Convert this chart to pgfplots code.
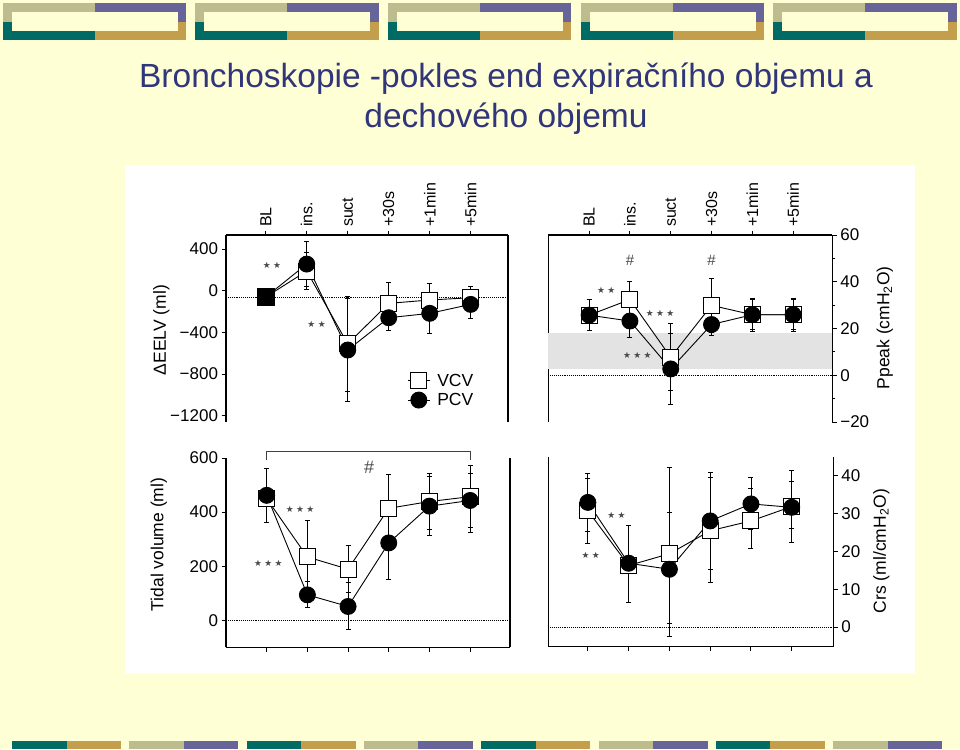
\documentclass[border=0pt]{standalone}
\usepackage{fontspec}
\setmainfont{Liberation Sans}
\newfontfamily\symfont{DejaVu Sans}
\usepackage{pgfplots}
\usepackage{pgfplotstable}
\pgfplotsset{compat=1.18}

\definecolor{slidebg}{HTML}{FFFFD5}
\definecolor{khaki}{HTML}{BCBC8F}
\definecolor{lilac}{HTML}{67649A}
\definecolor{teal}{HTML}{006A64}
\definecolor{gold}{HTML}{C39E4C}
\definecolor{titleblue}{HTML}{31367A}
\definecolor{notegray}{HTML}{4A4A4A}

\newcommand\two{★\hspace{2.4pt}★}
\newcommand\three{★\hspace{2.4pt}★\hspace{2.4pt}★}

% columns: x, mean, error up, error down
\pgfplotstableread{
x y ep em
0 -60 0 0
1 189 180 180
2 -511 455 455
3 -121 200 200
4 -89 155 155
5 -67 105 105
}\eelvV
\pgfplotstableread{
x y ep em
0 -60 0 0
1 256 220 220
2 -569 490 490
3 -259 125 125
4 -217 190 190
5 -131 140 140
}\eelvP
\pgfplotstableread{
x y ep em
0 25.7 6.5 6.5
1 32.4 7.7 7.7
2 7.7 14.4 14.4
3 29.9 11.4 11.4
4 25.9 7 7
5 25.9 7 7
}\ppV
\pgfplotstableread{
x y ep em
0 25.7 6.5 6.5
1 23.2 7 7
2 2.7 15.3 15.3
3 21.7 4.7 4.7
4 25.9 6.5 6.5
5 25.9 6.5 6.5
}\ppP
\pgfplotstableread{
x y ep em
0 450 110 90
1 234 136 136
2 189 87 87
3 414 125 125
4 439 104 104
5 457 115 115
}\tvV
\pgfplotstableread{
x y ep em
0 462 100 100
1 94 50 47
2 51 88 85
3 286 135 135
4 422 110 110
5 443 100 120
}\tvP
\pgfplotstableread{
x y ep em
0 30.8 8.6 8.6
1 16.3 10.5 9.8
2 19.4 10.8 18.4
3 25.5 14 10.2
4 28.1 8.5 7.2
5 31.9 9.6 9.6
}\crsV
\pgfplotstableread{
x y ep em
0 33 7.7 7.7
1 16.9 10 10.4
2 15.3 27 17.9
3 28.1 12.9 16.3
4 32.6 7 6.8
5 31.7 6.8 5.5
}\crsP

\pgfplotsset{
  panel/.style={
    scale only axis, clip=false,
    xtick={0,...,5},
    tick align=outside, major tick length=4.5pt, minor tick length=3pt,
    tick style={black, line width=1pt},
    axis line style={black, line width=1.2pt},
    tick label style={font=\fontsize{17}{20}\selectfont},
    /pgf/number format/assume math mode=true,
  },
  catlabels/.style={
    xticklabels={BL,ins.,suct,+30s,+1min,+5min},
    x tick label style={rotate=90, anchor=west, font=\fontsize{16}{19}\selectfont},
  },
  whisk/.style={black, line width=0.9pt, only marks, mark=none, forget plot,
    error bars/.cd, y dir=both, y explicit,
    error bar style={black, line width=0.9pt},
    error mark=-, error mark options={rotate=90, black, mark size=2.5pt, line width=1pt}},
  vcv/.style={black, line width=0.9pt, mark=square*, mark size=8pt,
    mark options={fill=white, line width=1pt}},
  pcv/.style={black, line width=0.9pt, mark=*, mark size=8pt,
    mark options={fill=black}},
}
\tikzset{
  note/.style={font=\symfont\fontsize{8.8}{10}\selectfont, text=notegray},
  hash/.style={font=\fontsize{15}{16}\selectfont, text=notegray},
  lab/.style={rotate=90, font=\fontsize{17.5}{20}\selectfont},
}

\begin{document}
\begin{tikzpicture}
\fill[slidebg] (0pt,0pt) rectangle (960pt,-749pt);
\useasboundingbox (0pt,0pt) rectangle (960pt,-749pt);

% slide decoration, top
\foreach \i in {0,...,4}{
  \pgfmathsetmacro\xa{2.7+192.6*\i}
  \pgfmathsetmacro\xb{\xa+92}
  \pgfmathsetmacro\xc{\xa+183.5}
  \pgfmathsetmacro\xd{\xa+9}
  \pgfmathsetmacro\xe{\xa+175}
  \fill[khaki] (\xa pt,-3.3pt) rectangle (\xb pt,-21.7pt);
  \fill[lilac] (\xb pt,-3.3pt) rectangle (\xc pt,-21.7pt);
  \fill[teal] (\xa pt,-21.7pt) rectangle (\xb pt,-40pt);
  \fill[gold] (\xb pt,-21.7pt) rectangle (\xc pt,-40pt);
  \fill[slidebg] (\xd pt,-12.3pt) rectangle (\xe pt,-31pt);
}
% slide decoration, bottom
\foreach \i in {0,...,7}{
  \pgfmathsetmacro\xa{12+117.3*\i}
  \pgfmathsetmacro\xb{\xa+54.5}
  \pgfmathsetmacro\xc{\xa+109}
  \ifodd\i
    \fill[khaki] (\xa pt,-740.7pt) rectangle (\xb pt,-749pt);
    \fill[lilac] (\xb pt,-740.7pt) rectangle (\xc pt,-749pt);
  \else
    \fill[teal] (\xa pt,-740.7pt) rectangle (\xb pt,-749pt);
    \fill[gold] (\xb pt,-740.7pt) rectangle (\xc pt,-749pt);
  \fi
}

% title
\node[anchor=base, text=titleblue, font=\fontsize{33.5}{40}\selectfont] at (506pt,-88pt)
  {Bronchoskopie -pokles end expiračního objemu a};
\node[anchor=base, text=titleblue, font=\fontsize{33.5}{40}\selectfont] at (506pt,-128pt)
  {dechového objemu};

% white figure panel
\fill[white] (125pt,-165pt) rectangle (915pt,-673pt);

% ---- top left: delta EELV
\begin{axis}[panel, catlabels,
  at={(226pt,-422pt)}, anchor=south west, width=282pt, height=187pt,
  xmin=-0.97, xmax=5.91, ymin=-1260, ymax=535,
  axis x line*=top, axis y line*=left,
  ytick={-1200,-800,-400,0,400}, yticklabels={−1200,−800,−400,0,400},
  legend style={at={(axis cs:3.45,-778)}, anchor=north west, draw=none, fill=none,
    font=\fontsize{17.5}{20}\selectfont, row sep=1.5pt, column sep=5pt, inner sep=0pt},
  legend cell align=left,
  legend image code/.code={\draw[mark repeat=2,mark phase=2,#1] plot coordinates {(0pt,0pt) (11pt,0pt) (22pt,0pt)};},
]
\draw[black, line width=1.2pt] (rel axis cs:1,0) -- (rel axis cs:1,1);
\addplot[forget plot, densely dotted, line width=0.9pt] coordinates {(-0.97,-60) (5.91,-60)};
\addplot[whisk] table[x=x, y=y, y error plus=ep, y error minus=em] {\eelvV};
\addplot[whisk] table[x=x, y=y, y error plus=ep, y error minus=em] {\eelvP};
\addplot[vcv] table[x=x, y=y] {\eelvV};
\addplot[pcv] table[x=x, y=y] {\eelvP};
\addplot[forget plot, only marks, mark=square*, mark size=8.5pt, black] coordinates {(0,-60)};
\legend{VCV, PCV}
\node[note] at (axis cs:0.15,240) {\two};
\node[note] at (axis cs:1.24,-320) {\two};
\node[lab] at (axis cs:-2.55,-377) {ΔEELV (ml)};
\end{axis}

% ---- top right: Ppeak
\begin{axis}[panel, catlabels,
  at={(548.3pt,-422pt)}, anchor=south west, width=284pt, height=187pt,
  xmin=-1.0, xmax=5.96, ymin=-20, ymax=60,
  axis x line*=top, axis y line*=right,
  ytick={-20,0,20,40,60}, yticklabels={−20,0,20,40,60},
  minor y tick num=1,
]
\draw[black, line width=1.2pt] (rel axis cs:0,0) -- (rel axis cs:0,1);
\addplot[forget plot, fill=black!11, draw=none] coordinates {(-1,2.8) (5.96,2.8) (5.96,17.9) (-1,17.9)} -- cycle;
\addplot[forget plot, densely dotted, line width=0.9pt] coordinates {(-1,0) (5.96,0)};
\addplot[whisk] table[x=x, y=y, y error plus=ep, y error minus=em] {\ppV};
\addplot[whisk] table[x=x, y=y, y error plus=ep, y error minus=em] {\ppP};
\addplot[vcv] table[x=x, y=y] {\ppV};
\addplot[pcv] table[x=x, y=y] {\ppP};
\node[hash] at (axis cs:1,49) {\#};
\node[hash] at (axis cs:3,49) {\#};
\node[note] at (axis cs:0.42,36.5) {\two};
\node[note] at (axis cs:1.74,26.4) {\three};
\node[note] at (axis cs:1.18,8.4) {\three};
\node[lab] at (axis cs:7.25,20.3) {Ppeak (cmH\textsubscript{2}O)};
\end{axis}

% ---- bottom left: tidal volume
\begin{axis}[panel,
  at={(226pt,-647.3pt)}, anchor=south west, width=284pt, height=189.3pt,
  xmin=-1.0, xmax=5.98, ymin=-100, ymax=600,
  axis x line*=bottom, axis y line*=left,
  xticklabels={},
  ytick={0,200,400,600},
]
\draw[black, line width=1.2pt] (rel axis cs:1,0) -- (rel axis cs:1,1);
\addplot[forget plot, densely dotted, line width=0.9pt] coordinates {(-1,0) (5.98,0)};
\addplot[whisk] table[x=x, y=y, y error plus=ep, y error minus=em] {\tvV};
\addplot[whisk] table[x=x, y=y, y error plus=ep, y error minus=em] {\tvP};
\addplot[vcv] table[x=x, y=y] {\tvV};
\addplot[pcv] table[x=x, y=y] {\tvP};
\draw[black!75, line width=1.1pt] (axis cs:0,593) -- (axis cs:0,623) -- (axis cs:5,623) -- (axis cs:5,593);
\node[hash, font=\fontsize{18}{20}\selectfont] at (axis cs:2.52,565) {\#};
\node[note] at (axis cs:0.82,410) {\three};
\node[note] at (axis cs:0.04,210) {\three};
\node[lab] at (axis cs:-2.65,280) {Tidal volume (ml)};
\end{axis}

% ---- bottom right: Crs
\begin{axis}[panel,
  at={(548.3pt,-646.7pt)}, anchor=south west, width=285pt, height=190pt,
  xmin=-0.97, xmax=6.02, ymin=-5.2, ymax=45.1,
  axis x line*=bottom, axis y line*=right,
  xticklabels={},
  ytick={0,10,20,30,40},
]
\draw[black, line width=1.2pt] (rel axis cs:0,0) -- (rel axis cs:0,1);
\addplot[forget plot, densely dotted, line width=0.9pt] coordinates {(-0.97,0) (6.02,0)};
\addplot[whisk] table[x=x, y=y, y error plus=ep, y error minus=em] {\crsV};
\addplot[whisk] table[x=x, y=y, y error plus=ep, y error minus=em] {\crsP};
\addplot[vcv] table[x=x, y=y] {\crsV};
\addplot[pcv] table[x=x, y=y] {\crsP};
\node[note] at (axis cs:0.7,29.7) {\two};
\node[note] at (axis cs:0.07,18.9) {\two};
\node[lab] at (axis cs:7.2,20.1) {Crs (ml/cmH\textsubscript{2}O)};
\end{axis}
\end{tikzpicture}
\end{document}
